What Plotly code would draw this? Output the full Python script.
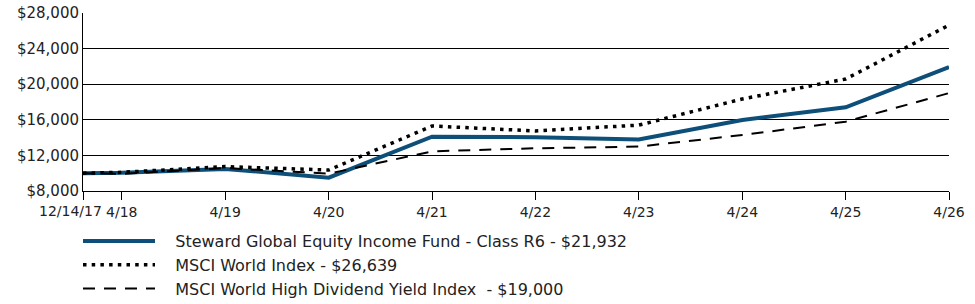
import plotly.graph_objects as go

dates = ["2017-12-14", "2018-04-30", "2019-04-30", "2020-04-30", "2021-04-30",
         "2022-04-30", "2023-04-30", "2024-04-30", "2025-04-30", "2026-04-30"]
tick_labels = ["12/14/17", "4/18", "4/19", "4/20", "4/21",
               "4/22", "4/23", "4/24", "4/25", "4/26"]

fund = [10000, 10050, 10480, 9500, 14100, 14050, 13800, 15980, 17400, 21932]
msci_world = [10000, 10100, 10740, 10360, 15300, 14750, 15400, 18340, 20580, 26639]
msci_hdy = [10000, 9920, 10580, 9950, 12450, 12800, 12990, 14290, 15790, 19000]

names = ["Steward Global Equity Income Fund - Class R6 - $21,932",
         "MSCI World Index - $26,639",
         "MSCI World High Dividend Yield Index\u00a0 - $19,000"]
pad = "\u00a0" * 3

y_ticks = [8000, 12000, 16000, 20000, 24000, 28000]
y_tick_text = ["$8,000", "$12,000", "$16,000", "$20,000", "$24,000", "$28,000"]

FONT = "DejaVu Sans"

fig = go.Figure()
fig.add_trace(go.Scatter(x=dates, y=fund, mode="lines", name=pad + names[0],
                         line=dict(color="#0d4f78", width=4)))
fig.add_trace(go.Scatter(x=dates, y=msci_world, mode="lines", name=pad + names[1],
                         line=dict(color="#000000", width=3.5, dash="3.5px,5.2px")))
fig.add_trace(go.Scatter(x=dates, y=msci_hdy, mode="lines", name=pad + names[2],
                         line=dict(color="#000000", width=2, dash="12px,9px")))

# first tick label is drawn as an annotation, nudged left so it clears "4/18"
fig.add_annotation(x=dates[0], xref="x", y=0, yref="paper", text=tick_labels[0],
                   showarrow=False, xanchor="center", yanchor="top",
                   xshift=-13, yshift=-10,
                   font=dict(family=FONT, size=14, color="#222"))

fig.update_layout(
    width=975, height=304,
    margin=dict(l=83, r=26, t=13, b=113),
    paper_bgcolor="white", plot_bgcolor="white",
    font=dict(family=FONT, size=15, color="#222"),
    showlegend=True,
    legend=dict(x=-5 / 866, xanchor="left", yref="container",
                y=(304 - 224) / 304, yanchor="top",
                itemwidth=72, font=dict(family=FONT, size=16, color="#222"),
                bgcolor="rgba(0,0,0,0)", traceorder="normal"),
    xaxis=dict(type="date", range=["2017-12-14", "2026-04-30"],
               tickmode="array", tickvals=dates, ticktext=[""] + tick_labels[1:],
               tickangle=0, automargin=False,
               showgrid=False, showline=True, linecolor="#000", linewidth=1,
               ticks="outside", ticklen=8, tickcolor="#000", tickwidth=1,
               zeroline=False, tickfont=dict(family=FONT, size=14, color="#222")),
    yaxis=dict(range=[8000, 28000], tickmode="array", tickvals=y_ticks,
               ticktext=y_tick_text, showgrid=True, gridcolor="#000", gridwidth=1,
               showline=True, linecolor="#000", linewidth=1, zeroline=False,
               ticks="", ticklabelstandoff=0, automargin=False,
               tickfont=dict(family=FONT, size=15, color="#222")),
)

fig.write_html("out.html")
